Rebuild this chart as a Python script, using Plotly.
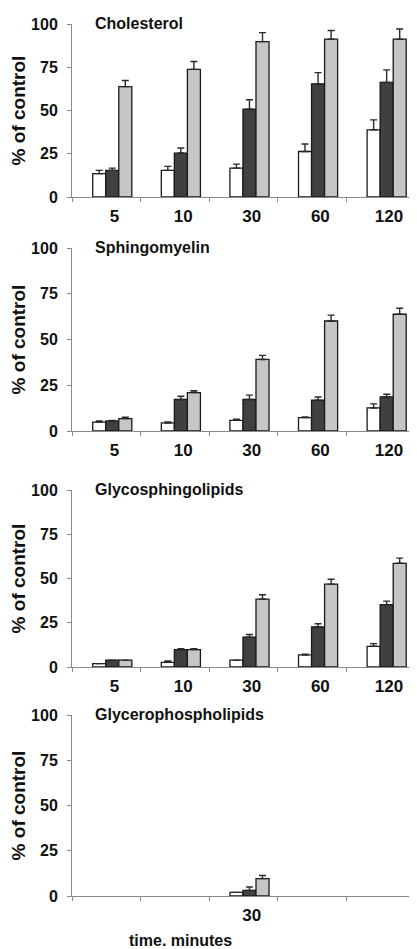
import plotly.graph_objects as go
from plotly.subplots import make_subplots

# ---------------- data ----------------
categories = ["5", "10", "30", "60", "120"]
panel_titles = ["Cholesterol", "Sphingomyelin", "Glycosphingolipids", "Glycerophospholipids"]
y_ticks = [0, 25, 50, 75, 100]

chol_white = [13.5, 15.4, 16.7, 26.3, 38.8]
chol_white_err = [1.9, 2.3, 2.3, 4.3, 5.8]
chol_dark = [15.4, 25.4, 50.8, 65.4, 66.2]
chol_dark_err = [1.3, 2.9, 5.4, 6.5, 7.3]
chol_gray = [63.8, 73.8, 89.8, 91.2, 91.2]
chol_gray_err = [3.5, 4.5, 5.2, 5.0, 5.9]

sm_white = [4.9, 4.4, 5.8, 7.3, 12.6]
sm_white_err = [0.6, 0.5, 0.6, 0.4, 2.2]
sm_dark = [5.5, 17.2, 17.2, 16.8, 18.6]
sm_dark_err = [0.3, 1.8, 2.4, 1.8, 1.5]
sm_gray = [6.8, 21.0, 39.1, 60.1, 63.8]
sm_gray_err = [0.7, 1.0, 2.2, 3.2, 3.3]

gsl_white = [1.9, 2.6, 3.9, 6.8, 11.7]
gsl_white_err = [0.0, 0.8, 0.0, 0.4, 1.5]
gsl_dark = [3.9, 9.8, 16.9, 22.6, 35.2]
gsl_dark_err = [0.0, 0.5, 1.5, 1.8, 2.0]
gsl_gray = [3.9, 9.8, 38.3, 46.8, 58.6]
gsl_gray_err = [0.0, 0.5, 2.5, 2.8, 2.9]

gpl_white = [None, None, 2.0, None, None]
gpl_white_err = [0.0, 0.0, 0.0, 0.0, 0.0]
gpl_dark = [None, None, 3.1, None, None]
gpl_dark_err = [0.0, 0.0, 1.9, 0.0, 0.0]
gpl_gray = [None, None, 9.6, None, None]
gpl_gray_err = [0.0, 0.0, 1.7, 0.0, 0.0]
gpl_tick_labels = ["", "", "30", "", ""]

series_names = ["series 1", "series 2", "series 3"]

panels = [
    ([chol_white, chol_dark, chol_gray], [chol_white_err, chol_dark_err, chol_gray_err], categories),
    ([sm_white, sm_dark, sm_gray], [sm_white_err, sm_dark_err, sm_gray_err], categories),
    ([gsl_white, gsl_dark, gsl_gray], [gsl_white_err, gsl_dark_err, gsl_gray_err], categories),
    ([gpl_white, gpl_dark, gpl_gray], [gpl_white_err, gpl_dark_err, gpl_gray_err], gpl_tick_labels),
]

# ---------------- style ----------------
PAGE_OFFSET = 8  # default page body margin
W, H = 417 - PAGE_OFFSET, 949 - PAGE_OFFSET
FONT = "Arial, Liberation Sans, Helvetica, sans-serif"
fills = ["#ffffff", "#404040", "#c6c6c6"]
bar_width = 0.19
bar_offsets = [-0.198, -0.008, 0.182]
label_shift = 0.12
axis_color = "#8a8a8a"
x_left, x_right = 72 - PAGE_OFFSET, 415 - PAGE_OFFSET
panel_px = [(24, 197), (248, 431), (490, 667), (715, 896)]


def py(v):
    return 1 - (v - PAGE_OFFSET) / H


fig = make_subplots(rows=4, cols=1)

xpos = list(range(len(categories)))
for r, (vals, errs, ticklabels) in enumerate(panels, start=1):
    for k in range(3):
        fig.add_trace(
            go.Bar(
                x=xpos,
                y=vals[k],
                name=series_names[k],
                width=bar_width,
                offset=bar_offsets[k],
                marker=dict(color=fills[k], line=dict(color="#1a1a1a", width=1.3)),
                error_y=dict(
                    type="data",
                    symmetric=False,
                    array=errs[k],
                    arrayminus=[0] * len(errs[k]),
                    color="#2a2a2a",
                    thickness=1.4,
                    width=3.5,
                ),
                showlegend=False,
            ),
            row=r,
            col=1,
        )
    top, bottom = panel_px[r - 1]
    fig.update_yaxes(
        domain=[py(bottom), py(top)],
        range=[0, 100],
        tickvals=y_ticks,
        ticks="outside",
        ticklen=4,
        tickcolor=axis_color,
        showline=True,
        linecolor=axis_color,
        linewidth=1,
        showgrid=False,
        zeroline=False,
        automargin=False,
        tickfont=dict(family=FONT, size=16, color="#111", weight="bold"),
        ticklabelstandoff=6,
        title=dict(text="% of control", font=dict(family=FONT, size=19, color="#111", weight="bold"), standoff=8),
        row=r,
        col=1,
    )
    fig.update_xaxes(
        domain=[x_left / W, x_right / W],
        range=[-0.5, len(categories) - 0.5],
        tickvals=[i + label_shift for i in xpos],
        ticktext=ticklabels,
        ticks="",
        minor=dict(
            tickvals=[i - 0.5 for i in range(len(categories) + 1)],
            ticks="outside",
            ticklen=4,
            tickcolor=axis_color,
            showgrid=False,
        ),
        showline=True,
        linecolor=axis_color,
        linewidth=1,
        showgrid=False,
        zeroline=False,
        automargin=False,
        tickfont=dict(family=FONT, size=17, color="#111", weight="bold"),
        ticklabelstandoff=4,
        row=r,
        col=1,
    )
    xref = "x domain" if r == 1 else f"x{r} domain"
    yref = "y domain" if r == 1 else f"y{r} domain"
    fig.add_annotation(
        text=panel_titles[r - 1],
        xref=xref,
        yref=yref,
        x=0.061,
        y=1,
        xanchor="left",
        yanchor="middle",
        yshift=1,
        showarrow=False,
        font=dict(family=FONT, size=16, color="#111", weight="bold"),
    )

fig.add_annotation(
    text="time. minutes",
    xref="paper",
    yref="paper",
    x=(180 - PAGE_OFFSET) / W,
    y=py(940),
    xanchor="center",
    yanchor="middle",
    showarrow=False,
    font=dict(family=FONT, size=16, color="#111", weight="bold"),
)

fig.update_layout(
    width=W,
    height=H,
    margin=dict(l=0, r=0, t=0, b=0, autoexpand=False),
    plot_bgcolor="white",
    paper_bgcolor="white",
    barmode="overlay",
)

fig.write_html("out.html")
